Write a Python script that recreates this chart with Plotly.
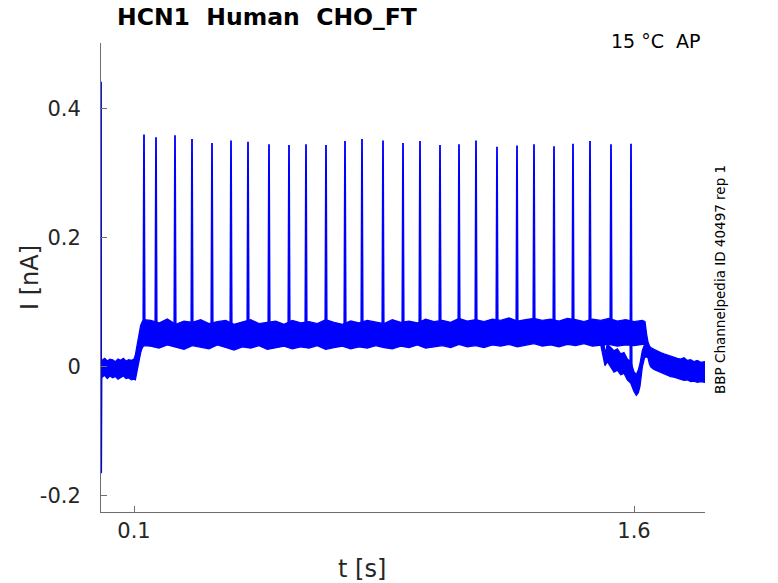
import plotly.graph_objects as go

# ---------------- data ----------------
# main sweep: noise band (upper / lower envelope), current in nA, time in s
t_band = [0.004, 0.012, 0.020, 0.028, 0.036, 0.044, 0.052, 0.060, 0.068, 0.076, 0.084, 0.092, 0.100,
          0.104, 0.108, 0.112, 0.116, 0.120, 0.125, 0.130,
          0.150, 0.175, 0.200, 0.225, 0.250, 0.275, 0.300, 0.325, 0.350, 0.375,
          0.400, 0.425, 0.450, 0.475, 0.500, 0.525, 0.550, 0.575, 0.600, 0.625,
          0.650, 0.675, 0.700, 0.725, 0.750, 0.775, 0.800, 0.825, 0.850, 0.875,
          0.900, 0.925, 0.950, 0.975, 1.000, 1.025, 1.050, 1.075, 1.100, 1.125,
          1.150, 1.175, 1.200, 1.225, 1.250, 1.275, 1.300, 1.325, 1.350, 1.375,
          1.400, 1.425, 1.450, 1.475, 1.500, 1.525, 1.550, 1.575, 1.600, 1.625,
          1.633, 1.638, 1.642, 1.646, 1.650, 1.660, 1.670, 1.680, 1.690, 1.700,
          1.710, 1.720, 1.730, 1.740, 1.750, 1.760, 1.770, 1.780, 1.790, 1.800, 1.812]
i_upper = [0.010, 0.013, 0.009, 0.012, 0.011, 0.008, 0.012, 0.010, 0.013, 0.009, 0.011, 0.010, 0.012,
           0.018, 0.030, 0.042, 0.055, 0.064, 0.070, 0.073,
           0.072, 0.068, 0.074, 0.066, 0.071, 0.069, 0.073, 0.067, 0.070, 0.072,
           0.066, 0.070, 0.073, 0.067, 0.069, 0.071, 0.066, 0.072, 0.068, 0.070,
           0.067, 0.073, 0.069, 0.066, 0.071, 0.068, 0.072, 0.070, 0.067, 0.073,
           0.069, 0.071, 0.068, 0.074, 0.070, 0.072, 0.069, 0.075, 0.071, 0.073,
           0.070, 0.074, 0.072, 0.076, 0.071, 0.073, 0.075, 0.072, 0.074, 0.071,
           0.075, 0.073, 0.070, 0.074, 0.072, 0.075, 0.071, 0.073, 0.070, 0.072,
           0.070, 0.050, 0.038, 0.033, 0.030, 0.027, 0.024, 0.022, 0.020, 0.018,
           0.016, 0.015, 0.013, 0.012, 0.014, 0.010, 0.011, 0.008, 0.010, 0.007, 0.008]
i_lower = [-0.016, -0.013, -0.018, -0.014, -0.017, -0.015, -0.019, -0.016, -0.014, -0.018, -0.017, -0.020, -0.019,
           -0.020, -0.012, 0.000, 0.012, 0.022, 0.030, 0.033,
           0.032, 0.029, 0.034, 0.030, 0.027, 0.033, 0.031, 0.028, 0.034, 0.030,
           0.026, 0.031, 0.029, 0.033, 0.027, 0.030, 0.032, 0.028, 0.031, 0.029,
           0.033, 0.027, 0.030, 0.032, 0.028, 0.031, 0.029, 0.033, 0.030, 0.028,
           0.032, 0.030, 0.034, 0.029, 0.031, 0.033, 0.030, 0.035, 0.031, 0.033,
           0.030, 0.034, 0.032, 0.035, 0.031, 0.033, 0.036, 0.032, 0.034, 0.031,
           0.035, 0.033, 0.036, 0.032, 0.034, 0.035, 0.032, 0.034, 0.033, 0.035,
           0.035, 0.025, 0.014, 0.005, 0.000, -0.004, -0.007, -0.009, -0.011, -0.013,
           -0.015, -0.016, -0.018, -0.019, -0.021, -0.020, -0.023, -0.022, -0.024, -0.023, -0.024]

# second sweep, where it departs from the first one near the end of the step
t_band2 = [1.500, 1.507, 1.513, 1.520, 1.530, 1.540, 1.550, 1.560, 1.570, 1.580,
           1.590, 1.600, 1.607, 1.613, 1.618, 1.625, 1.632, 1.640]
i_upper2 = [0.068, 0.050, 0.020, 0.035, 0.030, 0.025, 0.028, 0.020, 0.022, 0.012,
            0.008, -0.008, -0.012, -0.005, 0.005, 0.025, 0.035, 0.030]
i_lower2 = [0.035, 0.020, 0.002, 0.008, 0.000, -0.008, -0.005, -0.012, -0.010, -0.020,
            -0.025, -0.038, -0.044, -0.040, -0.030, 0.000, 0.015, 0.015]

# capacitive transient at the start
t_transient = [0.001, 0.0015, 0.002, 0.003, 0.005]
i_transient = [0.000, 0.442, -0.165, -0.020, 0.000]

# action-potential-like spikes: time, peak, base
spike_t = [0.130, 0.166, 0.223, 0.274, 0.334, 0.391, 0.442, 0.505, 0.565, 0.616,
           0.676, 0.733, 0.784, 0.847, 0.907, 0.958, 1.018, 1.075, 1.126, 1.189,
           1.249, 1.300, 1.360, 1.417, 1.468, 1.531, 1.591]
spike_peak = [0.360, 0.356, 0.359, 0.353, 0.347, 0.351, 0.349, 0.345, 0.344, 0.345,
              0.344, 0.350, 0.353, 0.351, 0.347, 0.350, 0.344, 0.345, 0.351, 0.341,
              0.343, 0.345, 0.342, 0.346, 0.350, 0.345, 0.346]
spike_base = [0.055] * 26 + [-0.022]

x_tickvals = [0.1, 1.6]
x_ticktext = ["0.1", "1.6"]
y_tickvals = [-0.2, 0.0, 0.2, 0.4]
y_ticktext = ["-0.2", "0", "0.2", "0.4"]

# ---------------- figure ----------------
BLUE = "#0000ff"
AX = "#6e6e6e"
TXT = "#262626"
FONT = "DejaVu Sans"

fig = go.Figure()

fig.add_trace(go.Scatter(
    x=t_band + t_band[::-1], y=i_upper + i_lower[::-1],
    mode="lines", fill="toself", fillcolor=BLUE,
    line=dict(color=BLUE, width=1.3), hoverinfo="skip", showlegend=False))

fig.add_trace(go.Scatter(
    x=t_band2 + t_band2[::-1], y=i_upper2 + i_lower2[::-1],
    mode="lines", fill="toself", fillcolor=BLUE,
    line=dict(color=BLUE, width=1.3), hoverinfo="skip", showlegend=False))

fig.add_trace(go.Scatter(
    x=t_transient, y=i_transient, mode="lines",
    line=dict(color=BLUE, width=1.5), showlegend=False))

sx, sy = [], []
for t, p, b in zip(spike_t, spike_peak, spike_base):
    sx += [t - 0.0022, t, t + 0.0022, None]
    sy += [b, p, b, None]
fig.add_trace(go.Scatter(x=sx, y=sy, mode="lines",
                         line=dict(color=BLUE, width=1.8), showlegend=False))

fig.update_layout(
    width=778, height=583,
    margin=dict(l=101, r=73, t=43, b=71),
    paper_bgcolor="white", plot_bgcolor="white",
    showlegend=False,
    font=dict(family=FONT, color=TXT),
    xaxis=dict(range=[0.001, 1.813], showgrid=False, zeroline=False,
               showline=True, linecolor=AX, linewidth=1,
               ticks="inside", ticklen=6, tickcolor=AX, tickwidth=1,
               tickvals=x_tickvals, ticktext=x_ticktext,
               tickfont=dict(size=21, color=TXT, family=FONT),
               ticklabelstandoff=0),
    yaxis=dict(range=[-0.225, 0.502], showgrid=False, zeroline=False,
               showline=True, linecolor=AX, linewidth=1,
               ticks="inside", ticklen=6, tickcolor=AX, tickwidth=1,
               tickvals=y_tickvals, ticktext=y_ticktext,
               tickfont=dict(size=21, color=TXT, family=FONT),
               ticklabelstandoff=15),
    annotations=[
        dict(text="<b>HCN1\u00a0\u00a0Human\u00a0\u00a0CHO_FT</b>", xref="paper", yref="paper",
             x=0.023, y=1.055, xanchor="left", yanchor="middle", showarrow=False,
             font=dict(size=23.5, color="black", family=FONT)),
        dict(text="15 °C\u00a0\u00a0AP", xref="paper", yref="paper",
             x=0.997, y=1.004, xanchor="right", yanchor="middle", showarrow=False,
             font=dict(size=19, color="black", family=FONT)),
        dict(text="BBP Channelpedia ID 40497 rep 1", xref="paper", yref="paper",
             x=1.025, y=0.495, xanchor="center", yanchor="middle", textangle=-90,
             showarrow=False, font=dict(size=13.5, color="black", family=FONT)),
        dict(text="I [nA]", xref="paper", yref="paper",
             x=-0.1175, y=0.499, xanchor="center", yanchor="middle", textangle=-90,
             showarrow=False, font=dict(size=24, color=TXT, family=FONT)),
        dict(text="t [s]", xref="paper", yref="paper",
             x=0.432, y=-0.1215, xanchor="center", yanchor="middle",
             showarrow=False, font=dict(size=24, color=TXT, family=FONT)),
    ],
)

fig.write_html("out.html", config={"displayModeBar": False},
               post_script="document.body.style.margin='0px';")
